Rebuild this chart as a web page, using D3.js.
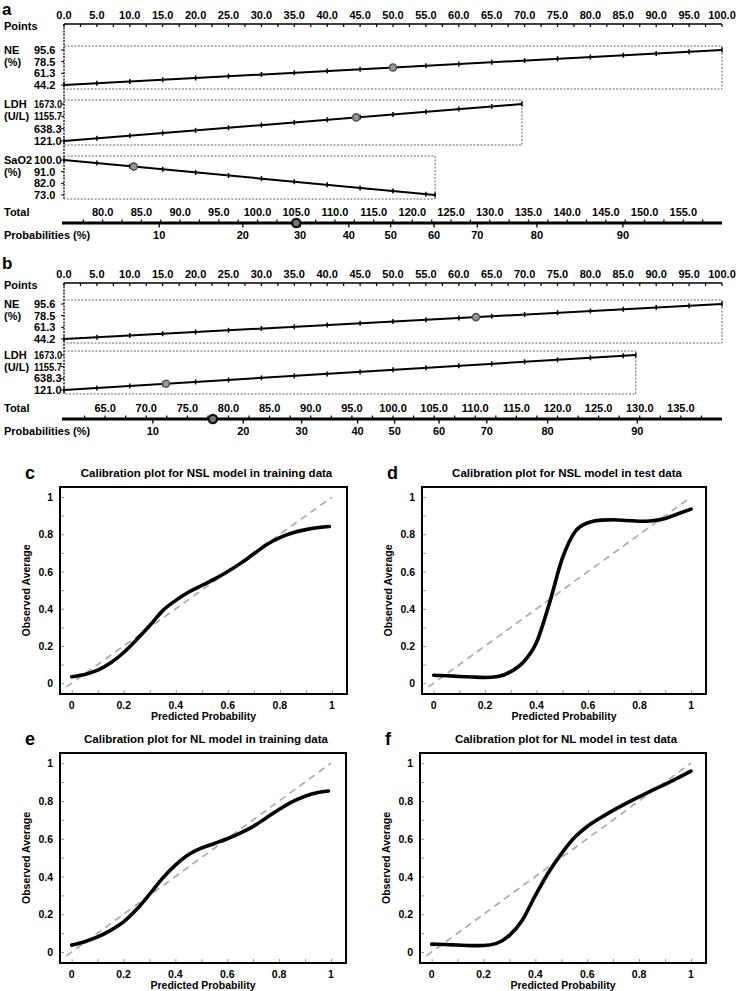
<!DOCTYPE html>
<html>
<head>
<meta charset="utf-8">
<script src="https://cdn.jsdelivr.net/npm/d3@7"></script>
<style>
  body { margin: 0; background: #fff; }
  text { font-family: "Liberation Sans", Arial, sans-serif; font-weight: bold; fill: #000; }
</style>
</head>
<body>
<svg id="chart" width="740" height="991"></svg>
<script>
// ---- nomogram data (panels a and b) ----
const pointLabels = [0, 5, 10, 15, 20, 25, 30, 35, 40, 45, 50, 55, 60, 65, 70, 75, 80, 85, 90, 95, 100];
const varNames = ["NE", "LDH", "SaO2"];
const varUnits = ["(%)", "(U/L)", "(%)"];
const neValues = [44.2, 61.3, 78.5, 95.6];
const ldhValues = [121.0, 638.3, 1155.7, 1673.0];
const sao2Values = [73.0, 82.0, 91.0, 100.0];
// value at 0 points -> value at max points
const neEnds = [44.2, 95.6];
const ldhEnds = [121.0, 1673.0];
const sao2Ends = [100.0, 73.0];
const maxPointsA = [100, 69.6, 56.4];
const maxPointsB = [100, 86.9];
const chosenPointsA = [50, 44.4, 10.6];
const chosenPointsB = [62.6, 15.5];
const totalRangeA = [75, 160];
const totalRangeB = [60, 140];
const totalLabelsA = [80, 85, 90, 95, 100, 105, 110, 115, 120, 125, 130, 135, 140, 145, 150, 155];
const totalLabelsB = [65, 70, 75, 80, 85, 90, 95, 100, 105, 110, 115, 120, 125, 130, 135];
const probLabels = [10, 20, 30, 40, 50, 60, 70, 80, 90];
const probTotalsA = [87.3, 98.1, 105.5, 111.8, 117.2, 122.8, 128.4, 136.1, 147.2];
const probTotalsB = [70.8, 81.8, 88.9, 95.7, 100.2, 105.6, 111.4, 118.8, 129.7];

// ---- calibration data (panels c-f) ----
const gridTrain = [0, 0.05, 0.1, 0.15, 0.2, 0.25, 0.3, 0.35, 0.4, 0.45, 0.5, 0.55, 0.6, 0.65, 0.7, 0.75, 0.8, 0.85, 0.9, 0.95, 0.99];
const gridTest = [0, 0.05, 0.1, 0.15, 0.2, 0.25, 0.3, 0.35, 0.4, 0.45, 0.5, 0.55, 0.6, 0.65, 0.7, 0.75, 0.8, 0.85, 0.9, 0.95, 1.0];
const nslTrain = [0.035, 0.047, 0.07, 0.11, 0.165, 0.235, 0.31, 0.39, 0.445, 0.49, 0.525, 0.56, 0.6, 0.645, 0.695, 0.745, 0.782, 0.808, 0.825, 0.836, 0.842];
const nslTest = [0.043, 0.04, 0.036, 0.033, 0.031, 0.036, 0.062, 0.115, 0.22, 0.43, 0.67, 0.815, 0.862, 0.876, 0.878, 0.874, 0.87, 0.873, 0.885, 0.91, 0.935];
const nlTrain = [0.037, 0.055, 0.08, 0.115, 0.16, 0.225, 0.305, 0.39, 0.46, 0.515, 0.55, 0.575, 0.6, 0.63, 0.665, 0.71, 0.755, 0.795, 0.825, 0.845, 0.853];
const nlTest = [0.042, 0.04, 0.037, 0.034, 0.035, 0.046, 0.088, 0.17, 0.3, 0.42, 0.52, 0.605, 0.665, 0.71, 0.75, 0.787, 0.822, 0.856, 0.888, 0.922, 0.958];
const calTicks = [0, 0.2, 0.4, 0.6, 0.8, 1];
const calMinor = [0.1, 0.3, 0.5, 0.7, 0.9];

const svg = d3.select("#chart");
const X0 = 64, X1 = 722;
const px = d3.scaleLinear().domain([0, 100]).range([X0, X1]);
const fmt1 = d3.format(".1f");

function nomogram(o) {
  const g = svg.append("g");
  g.append("text").attr("x", 2).attr("y", o.letterY).attr("font-size", 17).text(o.letter);

  // points axis
  g.append("line").attr("x1", X0).attr("x2", X1).attr("y1", o.axisY).attr("y2", o.axisY)
    .attr("stroke", "#000").attr("stroke-width", 1.5);
  g.selectAll(".pt").data(d3.range(0, 100.01, 2.5)).join("line")
    .attr("x1", d => px(d)).attr("x2", d => px(d))
    .attr("y1", o.axisY).attr("y2", o.axisY + 3)
    .attr("stroke", "#000").attr("stroke-width", 1.2);
  g.selectAll(".pl").data(pointLabels).join("text")
    .attr("x", d => px(d)).attr("y", o.axisY - 5)
    .attr("text-anchor", "middle").attr("font-size", 11).text(d => fmt1(d));
  g.append("text").attr("x", 4).attr("y", o.axisY + 6).attr("font-size", 11).text("Points");

  const lastBottom = o.rows[o.rows.length - 1].box[1];
  g.append("line").attr("x1", X0).attr("x2", X0).attr("y1", o.axisY).attr("y2", lastBottom)
    .attr("stroke", "#000").attr("stroke-width", 1.3).attr("stroke-dasharray", "2,1.2");

  o.rows.forEach((r, i) => {
    const [top, bot] = r.box;
    const vy = d3.scaleLinear().domain(d3.extent(r.values)).range([bot - 4, top + 4]);
    const xr = px(r.maxPts);
    // dashed box
    g.append("path")
      .attr("d", `M${X0},${top}H${xr}V${bot}H${X0}`)
      .attr("fill", "none").attr("stroke", "#666").attr("stroke-width", 1)
      .attr("stroke-dasharray", "2,1.5");
    g.append("text").attr("x", 4).attr("y", top + 8).attr("font-size", 11).text(r.name);
    g.append("text").attr("x", 4).attr("y", top + 20).attr("font-size", 11).text(r.unit);
    g.selectAll(null).data(r.values).join("text")
      .attr("x", 34).attr("y", d => vy(d) + 4).attr("font-size", 11)
      .text(d => fmt1(d))
      .each(function (d) {
        if (fmt1(d).length > 5) d3.select(this).attr("textLength", 28).attr("lengthAdjust", "spacingAndGlyphs");
      });
    g.selectAll(null).data(r.values).join("line")
      .attr("x1", X0 - 3).attr("x2", X0).attr("y1", d => vy(d)).attr("y2", d => vy(d))
      .attr("stroke", "#000");

    const valAt = p => r.ends[0] + (r.ends[1] - r.ends[0]) * p / r.maxPts;
    g.append("line")
      .attr("x1", px(0)).attr("y1", vy(valAt(0)))
      .attr("x2", px(r.maxPts)).attr("y2", vy(valAt(r.maxPts)))
      .attr("stroke", "#000").attr("stroke-width", 2);
    const stops = d3.range(0, r.maxPts, 5).concat([r.maxPts]);
    g.selectAll(null).data(stops).join("line")
      .attr("x1", d => px(d)).attr("x2", d => px(d))
      .attr("y1", d => vy(valAt(d)) - 2.5).attr("y2", d => vy(valAt(d)) + 2.5)
      .attr("stroke", "#000").attr("stroke-width", 1.5);
    const cp = o.chosen[i];
    g.append("circle").attr("cx", px(cp)).attr("cy", vy(valAt(cp))).attr("r", 3.5)
      .attr("fill", "#9a9a9a").attr("stroke", "#555").attr("stroke-width", 1.6);
  });

  // total / probability axis
  const tx = d3.scaleLinear().domain(o.totalRange).range([X0, X1]);
  const ly = o.lineY;
  g.append("text").attr("x", 4).attr("y", ly - 7).attr("font-size", 11).text("Total");
  g.selectAll(null).data(o.totalLabels).join("text")
    .attr("x", d => tx(d)).attr("y", ly - 7).attr("text-anchor", "middle")
    .attr("font-size", 11).text(d => fmt1(d));
  g.selectAll(null).data(d3.range(o.totalRange[0] + 2.5, o.totalRange[1], 2.5)).join("line")
    .attr("x1", d => tx(d)).attr("x2", d => tx(d)).attr("y1", ly).attr("y2", ly - 3.5)
    .attr("stroke", "#000").attr("stroke-width", 1.2);
  g.append("line").attr("x1", X0 - 2).attr("x2", X1).attr("y1", ly).attr("y2", ly)
    .attr("stroke", "#000").attr("stroke-width", 3.2);
  g.selectAll(null).data(o.probTotals).join("line")
    .attr("x1", d => tx(d)).attr("x2", d => tx(d)).attr("y1", ly).attr("y2", ly + 4.5)
    .attr("stroke", "#000").attr("stroke-width", 1.3);
  g.append("text").attr("x", 4).attr("y", ly + 16).attr("font-size", 11).text("Probabilities (%)");
  g.selectAll(null).data(probLabels).join("text")
    .attr("x", (d, i) => tx(o.probTotals[i])).attr("y", ly + 16).attr("text-anchor", "middle")
    .attr("font-size", 11).text(d => d);
  g.append("circle").attr("cx", tx(d3.sum(o.chosen))).attr("cy", ly).attr("r", 4.2)
    .attr("fill", "#777").attr("stroke", "#111").attr("stroke-width", 2.2);
}

nomogram({
  letter: "a", letterY: 15, axisY: 24, lineY: 223,
  rows: [
    { name: varNames[0], unit: varUnits[0], values: neValues, ends: neEnds, maxPts: maxPointsA[0], box: [46, 89] },
    { name: varNames[1], unit: varUnits[1], values: ldhValues, ends: ldhEnds, maxPts: maxPointsA[1], box: [100, 145] },
    { name: varNames[2], unit: varUnits[2], values: sao2Values, ends: sao2Ends, maxPts: maxPointsA[2], box: [156, 199] }
  ],
  chosen: chosenPointsA, totalRange: totalRangeA, totalLabels: totalLabelsA, probTotals: probTotalsA
});

nomogram({
  letter: "b", letterY: 269, axisY: 283, lineY: 419,
  rows: [
    { name: varNames[0], unit: varUnits[0], values: neValues, ends: neEnds, maxPts: maxPointsB[0], box: [300, 343] },
    { name: varNames[1], unit: varUnits[1], values: ldhValues, ends: ldhEnds, maxPts: maxPointsB[1], box: [351, 394] }
  ],
  chosen: chosenPointsB, totalRange: totalRangeB, totalLabels: totalLabelsB, probTotals: probTotalsB
});

function calib(o) {
  const g = svg.append("g");
  const x = d3.scaleLinear().domain([-0.045, 1.058]).range([o.x0, o.x1]);
  const y = d3.scaleLinear().domain([-0.058, 1.054]).range([o.y1, o.y0]);

  g.append("text").attr("x", o.x0 - 35).attr("y", o.y0 - 8).attr("font-size", 18).text(o.letter);
  g.append("text").attr("x", (o.x0 + o.x1) / 2 + 3).attr("y", o.y0 - 10)
    .attr("text-anchor", "middle").attr("font-size", 11.5).text(o.title);

  // minor + major inward ticks
  const xa = d3.axisBottom(x).tickValues(calTicks.concat(calMinor)).tickSizeInner(-4).tickSizeOuter(0).tickFormat("");
  const ya = d3.axisLeft(y).tickValues(calTicks.concat(calMinor)).tickSizeInner(-4).tickSizeOuter(0).tickFormat("");
  g.append("g").attr("transform", `translate(0,${o.y1})`).call(xa)
    .call(s => s.select(".domain").remove()).selectAll("line").attr("stroke", "#999");
  g.append("g").attr("transform", `translate(${o.x0},0)`).call(ya)
    .call(s => s.select(".domain").remove()).selectAll("line").attr("stroke", "#999");

  g.selectAll(null).data(calTicks).join("text")
    .attr("x", d => x(d)).attr("y", o.y1 + 15).attr("text-anchor", "middle")
    .attr("font-size", 10.5).text(d => d);
  g.selectAll(null).data(calTicks).join("text")
    .attr("x", o.x0 - 7).attr("y", d => y(d) + 4).attr("text-anchor", "end")
    .attr("font-size", 10.5).text(d => d);

  g.append("text").attr("x", (o.x0 + o.x1) / 2).attr("y", o.y1 + 26)
    .attr("text-anchor", "middle").attr("font-size", 10.5).text("Predicted Probability");
  g.append("text")
    .attr("transform", `translate(${o.x0 - 30},${(o.y0 + o.y1) / 2}) rotate(-90)`)
    .attr("text-anchor", "middle").attr("font-size", 10.5).text("Observed Average");

  g.append("line").attr("x1", x(-0.02)).attr("y1", y(-0.02)).attr("x2", x(1)).attr("y2", y(1))
    .attr("stroke", "#a8a8a8").attr("stroke-width", 1.6).attr("stroke-dasharray", "7,5");

  const line = d3.line().x(d => x(d[0])).y(d => y(d[1])).curve(d3.curveMonotoneX);
  g.append("path").datum(o.grid.map((p, i) => [p, o.obs[i]]))
    .attr("d", line).attr("fill", "none").attr("stroke", "#000")
    .attr("stroke-width", 3.6).attr("stroke-linecap", "round");

  g.append("rect").attr("x", o.x0).attr("y", o.y0)
    .attr("width", o.x1 - o.x0).attr("height", o.y1 - o.y0)
    .attr("fill", "none").attr("stroke", "#000").attr("stroke-width", 2);
}

calib({ letter: "c", title: "Calibration plot for NSL model in training data", grid: gridTrain, obs: nslTrain, x0: 60, x1: 347, y0: 487, y1: 694 });
calib({ letter: "d", title: "Calibration plot for NSL model in test data", grid: gridTest, obs: nslTest, x0: 422, x1: 706, y0: 487, y1: 694 });
calib({ letter: "e", title: "Calibration plot for NL model in training data", grid: gridTrain, obs: nlTrain, x0: 60, x1: 346, y0: 753, y1: 963 });
calib({ letter: "f", title: "Calibration plot for NL model in test data", grid: gridTest, obs: nlTest, x0: 420, x1: 706, y0: 753, y1: 963 });
</script>
</body>
</html>
